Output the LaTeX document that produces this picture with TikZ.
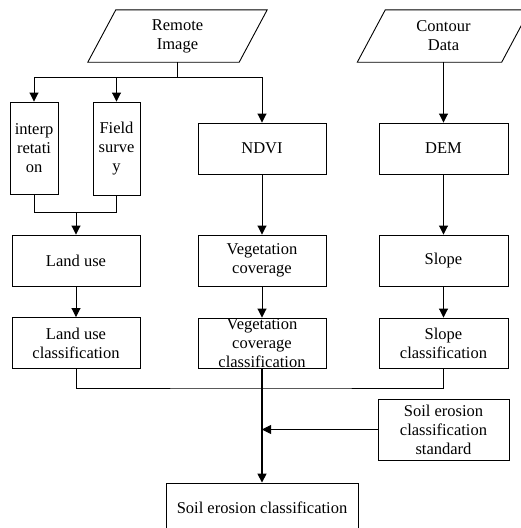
\documentclass[tikz,border=0pt]{standalone}
\usepackage{fontspec}
\setmainfont{Liberation Serif}
\usetikzlibrary{arrows.meta}
\begin{document}
\begin{tikzpicture}[x=1pt,y=-1pt,
  font=\fontsize{16.5}{19}\selectfont,
  box/.style={draw, line width=0.9pt, align=center, inner sep=0pt, minimum width=#1, minimum height=51pt},
  box/.default=128pt,
  data/.style={align=center, inner sep=0pt, minimum height=52pt},
  arr/.style={line width=0.9pt, -{Triangle[length=9pt,width=9pt]}},
  ln/.style={line width=0.9pt}]
\useasboundingbox (0,0) rectangle (520,528);
% data inputs
\node[data, minimum width=151pt] (ri) at (177.5,36) {Remote\\Image};
\draw[ln] ([xshift=14pt]ri.north west) -- ([xshift=14pt]ri.north east) -- ([xshift=-14pt]ri.south east) -- ([xshift=-14pt]ri.south west) -- cycle;
\node[data, minimum width=144pt] (cd) at (443.5,36) {Contour\\Data};
\draw[ln] ([xshift=14pt]cd.north west) -- ([xshift=14pt]cd.north east) -- ([xshift=-14pt]cd.south east) -- ([xshift=-14pt]cd.south west) -- cycle;
% first level
\node[box=48pt, minimum height=92pt] (interp) at (34,148) {interp\\retati\\on};
\node[box=47pt, minimum height=93pt] (field) at (116.5,148.5) {Field\\surve\\y};
\node[box] (ndvi) at (262,148.5) {NDVI};
\node[box=129pt] (dem) at (443.5,148.5) {DEM};
% second level
\node[box] (lu) at (76,260.5) {Land use};
\node[box] (veg) at (262,260.5) {Vegetation\\coverage};
\node[box=129pt] (slope) at (443.5,260.5) {Slope};
% third level
\node[box] (luc) at (76,343) {Land use\\classification};
\node[box, minimum height=50pt] (vegc) at (262,343) {Vegetation\\coverage\\classification};
\node[box=129pt, minimum height=50pt] (slc) at (443.5,343) {Slope\\classification};
% standard and result
\node[box=131pt, minimum height=61pt] (std) at (443.5,429.5) {Soil erosion\\classification\\standard};
\node[box=192pt, minimum height=50pt] (soil) at (262,508) {Soil erosion classification};
% connectors
\coordinate (j1) at (177.5,77);
\draw[ln] (ri.south) -- (j1);
\draw[arr] (j1) -| (interp.north);
\draw[arr] (j1) -| (field.north);
\draw[arr] (j1) -| (ndvi.north);
\draw[arr] (cd.south) -- (dem.north);
\coordinate (j2) at (76,212);
\draw[ln] (interp.south) |- (j2);
\draw[ln] (field.south) |- (j2);
\draw[arr] (j2) -- (lu.north);
\draw[arr] (ndvi) -- (veg);
\draw[arr] (dem) -- (slope);
\draw[arr] (lu) -- (luc);
\draw[arr] (veg) -- (vegc);
\draw[arr] (slope) -- (slc);
\coordinate (j3) at (262,388);
\draw[ln] (luc.south) |- (j3) -| (slc.south);
\draw[arr, line width=1.6pt] (vegc.south) -- (soil.north);
\draw[arr] (std.west) -- (std.west -| soil.north);
\end{tikzpicture}
\end{document}
